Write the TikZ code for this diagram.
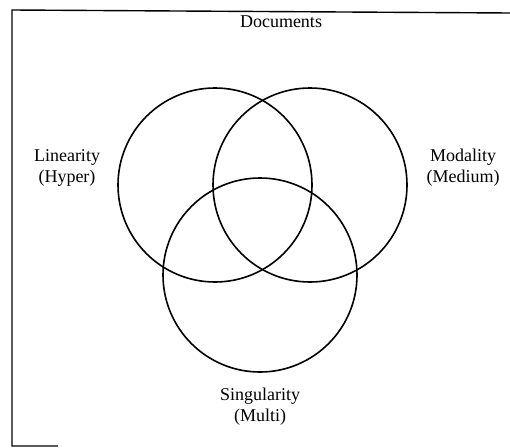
\documentclass[tikz,border=0pt]{standalone}
\usepackage{fontspec}
\setmainfont{Liberation Serif}
\usetikzlibrary{positioning}

\begin{document}
\begin{tikzpicture}[
    x=1pt, y=-1pt,
    every node/.style={font=\fontsize{18}{21}\selectfont},
    setcircle/.style={circle, draw=black, line width=1.6pt, minimum size=194pt, inner sep=0pt},
    lbl/.style={align=center, inner sep=0pt},
    frameline/.style={draw=black, line width=1.4pt}
]
\useasboundingbox (0,0) rectangle (510,447);

% --- Frame ---
\coordinate (ftl) at (12,10);
\coordinate (ftr) at (510,13);
\coordinate (fbl) at (12,446);
\coordinate (fbe) at (58,446);
\draw[frameline] (ftr) -- (ftl) -- (fbl) -- (fbe);

% --- Circles ---
\node[setcircle] (lin) at (215,185) {};
\node[setcircle] (mod) at (310,185) {};
\node[setcircle] (sing) at (260,275) {};

% --- Labels ---
\node[lbl] (doc) at (281,22) {Documents};
\node[lbl] (linl) at (67,168) {Linearity\\(Hyper)};
\node[lbl] (modl) at (463,168) {Modality\\(Medium)};
\node[lbl] (singl) at (260,407) {Singularity\\(Multi)};
\end{tikzpicture}
\end{document}
